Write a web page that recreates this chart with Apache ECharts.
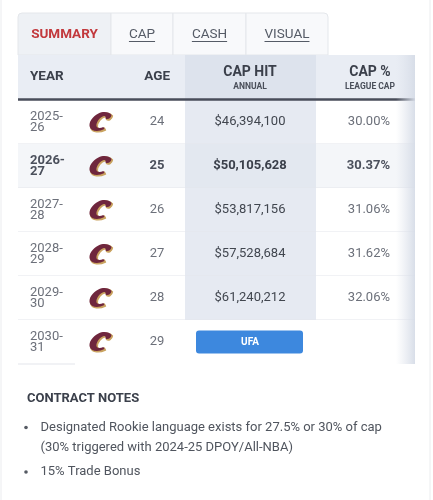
<!DOCTYPE html>
<html><head><meta charset="utf-8">
<style>html,body{margin:0;padding:0;background:#fff}#c{width:433px;height:500px}</style>
<script src="https://cdn.jsdelivr.net/npm/echarts@6/dist/echarts.min.js"></script>
</head><body><div id="c"></div><script>
// ---------- data ----------
const tabs = ['SUMMARY', 'CAP', 'CASH', 'VISUAL'];
const activeTab = 'SUMMARY';
const headerTitles = ['YEAR', 'AGE', 'CAP HIT', 'CAP %'];
const headerSubtitles = ['', '', 'ANNUAL', 'LEAGUE CAP'];
const years = ['2025-26', '2026-27', '2027-28', '2028-29', '2029-30', '2030-31'];
const ages = [24, 25, 26, 27, 28, 29];
const capHits = [46394100, 50105628, 53817156, 57528684, 61240212, null];
const capPcts = [30.00, 30.37, 31.06, 31.62, 32.06, null];
const statuses = [null, null, null, null, null, 'UFA'];
const highlightYear = '2026-27';
const notesTitle = 'CONTRACT NOTES';
const notes = [
  'Designated Rookie language exists for 27.5% or 30% of cap\n(30% triggered with 2024-25 DPOY/All-NBA)',
  '15% Trade Bonus'
];

// ---------- layout ----------
const FONT = 'Roboto, "Noto Sans", sans-serif';
const T_L = 18, T_R = 415;
const HEAD_T = 55, HEAD_B = 100;
const COL = { year: 30, logo: 101, age: 170, capL: 185, capR: 316, capC: 250, pctR: 390, pctC: 370 };
const TAB_EDGES = [18, 111, 173, 246, 328];
const TAB_T = 13;
const LOGO_PATH = 'M23 3.5C21 0.5 15 -0.5 10 2C4 5 0 11 1.5 15.5C3 20 10 20.5 16 17.5L15 15.5C11 17 8 16.5 8 14C8 10 12 5 15.5 4.5C17 4.3 17.5 5.5 17 7C19 8.5 22.5 7 23 3.5Z';

const mctx = document.createElement('canvas').getContext('2d');
function textW(t, font) { mctx.font = font; return mctx.measureText(t).width; }

const chart = echarts.init(document.getElementById('c'), null, { renderer: 'canvas' });

function fmtMoney(v) { return '$' + v.toLocaleString('en-US'); }
function fmtPct(v) { return v.toFixed(2) + '%'; }

function txt(text, x, y, font, fill, align, valign, extra) {
  return Object.assign({
    type: 'text',
    style: { text: text, x: x, y: y, font: font, fill: fill,
      textAlign: align || 'left', textVerticalAlign: valign || 'middle',
      align: align || 'left', verticalAlign: valign || 'middle' }
  }, extra || {});
}

function renderRow(params, api) {
  const i = api.value(1);
  const cs = params.coordSys;
  const yc = api.coord([0, i])[1];
  const h = api.size([0, 1])[1];
  const top = yc - h / 2;
  const hl = years[i] === highlightYear;
  const last = i === years.length - 1;
  const w = hl ? 'bold ' : '';
  const grey = hl ? '#4b505c' : '#6c707a';
  const dark = hl ? '#3a3f4a' : '#41464f';
  const kids = [];
  kids.push({ type: 'rect', shape: { x: cs.x, y: top, width: cs.width, height: h },
    style: { fill: hl ? '#f4f6f9' : '#ffffff' } });
  if (capHits[i] != null) {
    kids.push({ type: 'rect', shape: { x: COL.capL, y: top, width: COL.capR - COL.capL, height: h },
      style: { fill: hl ? '#e3e8f0' : '#e6eaf2' } });
  }
  if (!last) {
    kids.push({ type: 'line', shape: { x1: cs.x, y1: top + h, x2: cs.x + cs.width, y2: top + h },
      style: { stroke: '#e3e6eb', lineWidth: 1.2 } });
  } else {
    kids.push({ type: 'line', shape: { x1: cs.x, y1: top + h, x2: 75, y2: top + h },
      style: { stroke: '#e3e6eb', lineWidth: 1.2 } });
  }
  const parts = years[i].split('-');
  kids.push(txt(parts[0] + '-', COL.year, yc - 5, w + '13px ' + FONT, grey));
  kids.push(txt(parts[1], COL.year, yc + 5.5, w + '13px ' + FONT, grey));
  // team logo (Cavaliers "C"): gold outline underneath, wine on top
  kids.push({ type: 'path', shape: { pathData: LOGO_PATH, x: COL.logo - 11, y: yc - 9, width: 23, height: 19 },
    style: { fill: '#c9a25f', stroke: '#c9a25f', lineWidth: 1.2 } });
  kids.push({ type: 'path', shape: { pathData: LOGO_PATH, x: COL.logo - 12, y: yc - 10, width: 23, height: 19 },
    style: { fill: '#6f263d' } });
  kids.push(txt(String(ages[i]), COL.age - 13, yc, w + '13px ' + FONT, grey, 'center'));
  if (capHits[i] != null) {
    kids.push(txt(fmtMoney(capHits[i]), COL.capC, yc, w + '13px ' + FONT, dark, 'center'));
  } else if (statuses[i]) {
    kids.push({ type: 'rect', shape: { x: 196, y: yc - 11.5, width: 107, height: 23, r: 3 },
      style: { fill: '#3d88de' } });
    kids.push(txt(statuses[i], COL.capC, yc, 'bold 10px ' + FONT, '#ffffff', 'center'));
  }
  if (capPcts[i] != null) {
    kids.push(txt(fmtPct(capPcts[i]), COL.pctR, yc, w + '13px ' + FONT, grey, 'right'));
  }
  return { type: 'group', children: kids };
}

// ---------- static graphics ----------
const g = [];
g.push({ type: 'rect', shape: { x: 1, y: -2, width: 429, height: 504 },
  style: { fill: 'none', stroke: '#ebecef', lineWidth: 1 }, z: 0 });
tabs.forEach(function (t, k) {
  const x0 = TAB_EDGES[k], x1 = TAB_EDGES[k + 1];
  const active = t === activeTab;
  g.push({ type: 'rect', shape: { x: x0, y: TAB_T, width: x1 - x0, height: HEAD_T - TAB_T,
      r: k === 0 ? [4, 0, 0, 0] : (k === tabs.length - 1 ? [0, 4, 0, 0] : 0) },
    style: { fill: active ? '#eef1f5' : '#f8f9fb', stroke: '#e4e7eb', lineWidth: 1 } });
  const cx = (x0 + x1) / 2;
  const font = (active ? 'bold ' : '') + '13.5px ' + FONT;
  g.push(txt(t, cx, 34.5, font, active ? '#c2383c' : '#555b66', 'center'));
  if (!active) {
    const tw = textW(t, font);
    g.push({ type: 'line', shape: { x1: cx - tw / 2, y1: 41.5, x2: cx + tw / 2, y2: 41.5 },
      style: { stroke: '#555b66', lineWidth: 1 } });
  }
});
g.push({ type: 'rect', shape: { x: T_L, y: HEAD_T, width: T_R - T_L, height: HEAD_B - HEAD_T },
  style: { fill: '#e9edf4' } });
g.push({ type: 'rect', shape: { x: COL.capL, y: HEAD_T, width: COL.capR - COL.capL, height: HEAD_B - HEAD_T },
  style: { fill: '#dde3ed' } });
g.push({ type: 'line', shape: { x1: T_L, y1: HEAD_B - 0.5, x2: T_R, y2: HEAD_B - 0.5 },
  style: { stroke: '#484d5a', lineWidth: 2.5 }, z: 50 });
const hf = 'bold 13.5px ' + FONT, hc = '#3b404b';
g.push(txt(headerTitles[0], COL.year, 77, hf, hc));
g.push(txt(headerTitles[1], COL.age, 77, hf, hc, 'right'));
g.push(txt(headerTitles[2], COL.capC, 72.5, 'bold 14px ' + FONT, hc, 'center'));
g.push(txt(headerSubtitles[2], COL.capC, 86.5, 'bold 8.5px ' + FONT, '#4a4f5a', 'center'));
g.push(txt(headerTitles[3], COL.pctC, 72.5, 'bold 14px ' + FONT, hc, 'center'));
g.push(txt(headerSubtitles[3], COL.pctC, 86.5, 'bold 8.5px ' + FONT, '#4a4f5a', 'center'));
g.push({ type: 'rect', shape: { x: 396, y: HEAD_T, width: T_R - 396, height: 364 - HEAD_T },
  style: { fill: new echarts.graphic.LinearGradient(0, 0, 1, 0, [
    { offset: 0, color: 'rgba(222,227,236,0)' }, { offset: 1, color: 'rgba(214,220,231,0.95)' }]) },
  z: 60 });
g.push(txt(notesTitle, 27, 399, 'bold 13px ' + FONT, '#3b404b'));
let ny = 427.5;
notes.forEach(function (n) {
  g.push({ type: 'circle', shape: { cx: 26, cy: ny, r: 1.8 }, style: { fill: '#555a63' } });
  n.split('\n').forEach(function (line) {
    g.push(txt(line, 40.5, ny, '13px ' + FONT, '#50555e'));
    ny += 20.5;
  });
  ny += 3.5;
});

chart.setOption({
  animation: false,
  backgroundColor: '#ffffff',
  grid: { left: T_L, right: 433 - T_R, top: HEAD_B, height: 264, containLabel: false },
  xAxis: { type: 'value', min: 0, max: 1, show: false },
  yAxis: { type: 'category', data: years, inverse: true, show: false },
  graphic: { elements: g },
  series: [{
    type: 'custom',
    renderItem: renderRow,
    encode: { x: 0, y: 1 },
    data: years.map(function (y, i) { return [0, i]; }),
    z: 5
  }]
});
</script></body></html>
